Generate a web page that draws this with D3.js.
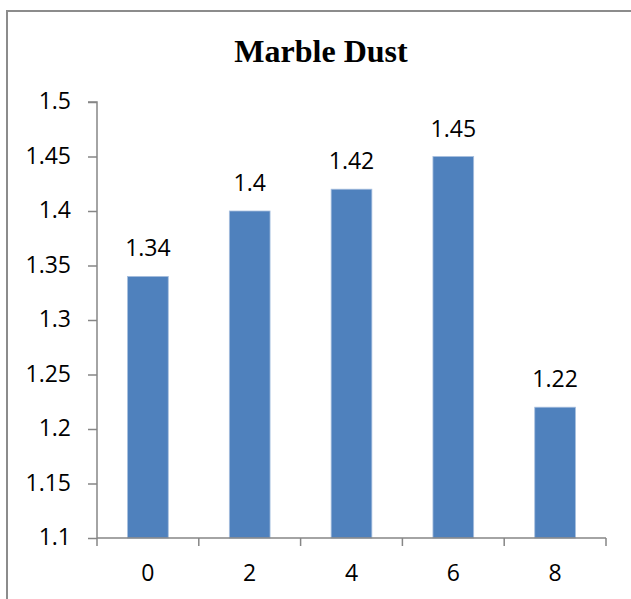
<!DOCTYPE html>
<html>
<head>
<meta charset="utf-8">
<script src="https://cdn.jsdelivr.net/npm/d3@7"></script>
<style>
  html, body { margin: 0; padding: 0; background: #fff; }
  svg { display: block; }
</style>
</head>
<body>
<svg id="chart" width="631" height="599"></svg>
<script>
// Marble Dust — bar chart data
const title = "Marble Dust";
const categories = ["0", "2", "4", "6", "8"];
const values = [1.34, 1.4, 1.42, 1.45, 1.22];
const yTicks = [1.1, 1.15, 1.2, 1.25, 1.3, 1.35, 1.4, 1.45, 1.5];

const svg = d3.select("#chart");
const W = 631, H = 599;
const plot = { left: 97, right: 606, top: 102, bottom: 538 };
const axisColor = "#868686";
const labelFont = "'Open Sans', sans-serif";
const labelSize = 23;

// Outer chart frame (extends past the right and bottom edges)
svg.append("rect")
  .attr("x", 7).attr("y", 11)
  .attr("width", W + 10).attr("height", H + 10)
  .attr("fill", "#fff")
  .attr("stroke", "#8c8c8c").attr("stroke-width", 2);

// Title
svg.append("text")
  .attr("x", 321).attr("y", 62)
  .attr("text-anchor", "middle")
  .attr("font-family", "'Liberation Serif', 'Times New Roman', serif")
  .attr("font-weight", "bold")
  .attr("font-size", 32)
  .attr("fill", "#000")
  .text(title);

const x = d3.scaleBand()
  .domain(categories)
  .range([plot.left, plot.right])
  .paddingInner(0.6)
  .paddingOuter(0.3);

const y = d3.scaleLinear()
  .domain([1.1, 1.5])
  .range([plot.bottom, plot.top]);

// Bars
svg.append("g")
  .selectAll("rect")
  .data(values)
  .join("rect")
  .attr("x", (d, i) => x(categories[i]))
  .attr("y", d => y(d))
  .attr("width", x.bandwidth())
  .attr("height", d => y(1.1) - y(d))
  .attr("fill", "#4F81BD")
  .attr("stroke", "#a7bfde")
  .attr("stroke-width", 0.8);

// Value labels
svg.append("g")
  .selectAll("text")
  .data(values)
  .join("text")
  .attr("x", (d, i) => x(categories[i]) + x.bandwidth() / 2)
  .attr("y", d => y(d) - 20)
  .attr("text-anchor", "middle")
  .attr("font-family", labelFont)
  .attr("font-size", labelSize)
  .attr("fill", "#000")
  .text(d => String(d));

// Y axis
const yAxis = svg.append("g")
  .attr("transform", `translate(${plot.left},0)`)
  .call(d3.axisLeft(y).tickValues(yTicks).tickSize(9).tickPadding(17)
    .tickFormat(d => String(+d.toFixed(2))));
yAxis.select(".domain").attr("stroke", axisColor).attr("stroke-width", 1.5)
  .attr("d", `M-9,${plot.top}H0V${plot.bottom}`);
yAxis.selectAll(".tick line").attr("stroke", axisColor).attr("stroke-width", 1.5);
yAxis.selectAll(".tick text")
  .attr("font-family", labelFont).attr("font-size", labelSize).attr("fill", "#000")
  .attr("dy", "0.3em");

// X axis: ticks at category boundaries, labels centered under bars
const xAxisG = svg.append("g").attr("transform", `translate(0,${plot.bottom})`);
const step = (plot.right - plot.left) / categories.length;
const boundaries = d3.range(categories.length + 1).map(i => plot.left + i * step);
xAxisG.append("line")
  .attr("x1", plot.left).attr("x2", plot.right)
  .attr("stroke", axisColor).attr("stroke-width", 1.5);
xAxisG.selectAll("line.tk")
  .data(boundaries)
  .join("line")
  .attr("class", "tk")
  .attr("x1", d => d).attr("x2", d => d)
  .attr("y1", 0).attr("y2", 8)
  .attr("stroke", axisColor).attr("stroke-width", 1.5);
xAxisG.selectAll("text")
  .data(categories)
  .join("text")
  .attr("x", d => x(d) + x.bandwidth() / 2)
  .attr("y", 43)
  .attr("text-anchor", "middle")
  .attr("font-family", labelFont)
  .attr("font-size", labelSize)
  .attr("fill", "#000")
  .text(d => d);
</script>
</body>
</html>
